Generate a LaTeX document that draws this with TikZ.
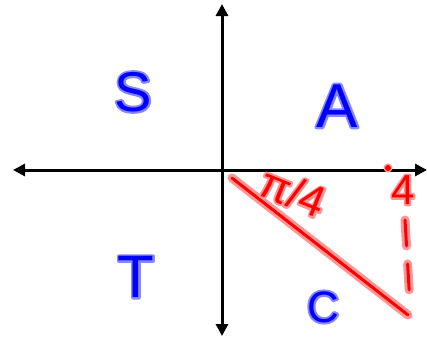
\documentclass[tikz,border=0pt]{standalone}
\usepackage{fontspec}
\setmainfont{Liberation Sans}
\usetikzlibrary{arrows.meta}
\definecolor{hblue}{RGB}{0,0,255}
\definecolor{hblueglow}{RGB}{135,135,255}
\definecolor{hred}{RGB}{255,0,0}
\definecolor{hredglow}{RGB}{255,150,150}
\newcommand\glowtext[3]{\rlap{\textcolor{#2}{\special{pdf:literal direct q 1 Tr 4 w 1 j}#1\special{pdf:literal direct Q}}}\textcolor{#3}{#1}}
\tikzset{
  axis/.style={line width=3pt, -{Triangle[length=12pt,width=12pt]}},
  bluelbl/.style={inner sep=0pt, font=\fontsize{56}{60}\selectfont},
  redlbl/.style={inner sep=0pt},
  redglow/.style={line width=9pt, hredglow, line cap=round, line join=round},
  redcore/.style={line width=3pt, hred, line cap=round, line join=round},
}
\begin{document}
\begin{tikzpicture}[x=1pt,y=-1pt]
\useasboundingbox (0,0) rectangle (427,338);
\coordinate (O) at (222,170);
\coordinate (L) at (13,170);
\coordinate (R) at (427,170);
\coordinate (U) at (222,4);
\coordinate (D) at (222,336);
\draw[axis] (O) -- (L);
\draw[axis] (O) -- (R);
\draw[axis] (O) -- (U);
\draw[axis] (O) -- (D);
% red line
\coordinate (P) at (232,178);
\coordinate (Q) at (408,315);
\draw[redglow] (P) -- (Q);
\draw[redcore] (P) -- (Q);
% dashed
\coordinate (DA) at (405,220);
\coordinate (DB) at (410,304);
\draw[redglow, dash pattern=on 26pt off 18pt] (DA) -- (DB);
\draw[redcore, dash pattern=on 26pt off 18pt] (DA) -- (DB);
% dot
\fill[hredglow] (388,168) circle (4.5pt);
\fill[hred] (388,168) circle (3pt) coordinate (dot);
% labels
\node[bluelbl] (S) at (133,92) {\glowtext{S}{hblueglow}{hblue}};
\node[bluelbl, font=\fontsize{62}{66}\selectfont] (A) at (337,106) {\glowtext{A}{hblueglow}{hblue}};
\node[bluelbl, font=\fontsize{60}{64}\selectfont] (T) at (136,277) {\glowtext{T}{hblueglow}{hblue}};
\node[bluelbl, font=\fontsize{44}{48}\selectfont] (C) at (323,307) {\glowtext{C}{hblueglow}{hblue}};
\node[redlbl, font=\fontsize{44}{48}\selectfont, rotate=-22] (ang) at (293,192) {\glowtext{π/4}{hredglow}{hred}};
\node[redlbl, font=\fontsize{42}{46}\selectfont] (four) at (403,190) {\glowtext{4}{hredglow}{hred}};
\end{tikzpicture}
\end{document}
